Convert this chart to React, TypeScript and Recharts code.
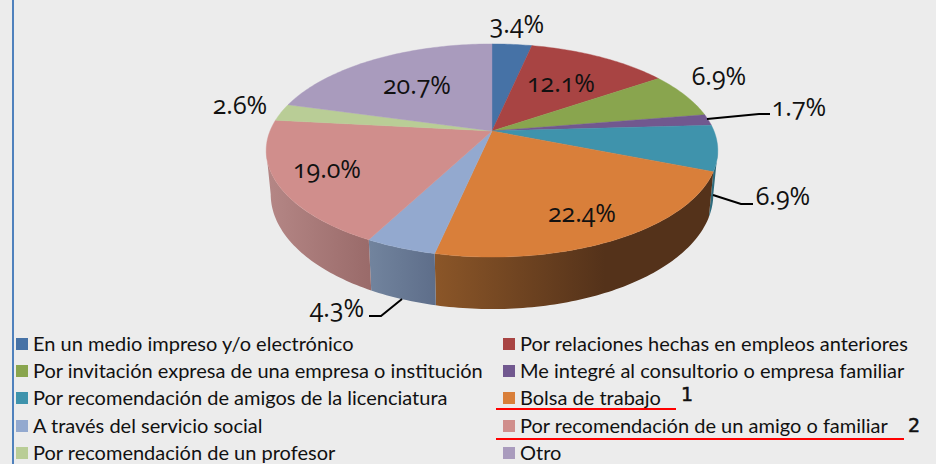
import { Legend, Pie, PieChart } from "recharts";

const categories = [
    "En un medio impreso y/o electrónico",
    "Por relaciones hechas en empleos anteriores",
    "Por invitación expresa de una empresa o institución",
    "Me integré al consultorio o empresa familiar",
    "Por recomendación de amigos de la licenciatura",
    "Bolsa de trabajo",
    "A través del servicio social",
    "Por recomendación de un amigo o familiar",
    "Por recomendación de un profesor",
    "Otro",
];
const percents = [3.4, 12.1, 6.9, 1.7, 6.9, 22.4, 4.3, 19.0, 2.6, 20.7];
const colors = ["#4672A6", "#A84443", "#89A54E", "#71588F", "#3F93AC", "#D97F3A", "#93A9CF", "#D08E8C", "#B9CD96", "#A99BBD"];
// left and right colour of the side wall
const wallColors = [
    ["#33527A", "#33527A"], ["#7A3130", "#7A3130"], ["#637839", "#637839"], ["#523F68", "#523F68"],
    ["#2E6B7D", "#2A6172"], ["#8B5628", "#54321A"], ["#72849E", "#5E6E8A"], ["#B58786", "#9A6B6A"],
    ["#87966D", "#87966D"], ["#7B7189", "#7B7189"],
];
const labelSpots = [
    [517, 23], [561, 82], [719, 75], [799, 106], [783, 195],
    [582, 212], [337, 307], [327, 168], [240, 104], [417, 84],
];
const leaders: Record<number, string> = {
    3: "M707 119 L759 114 L770 114",
    4: "M713 195 L741 204 L753 204",
    6: "M402 299 L381 316 L369 316",
};

const pieData = categories.map((name, i) => ({ name, value: percents[i], fill: colors[i] }));

const FONT = "Lato, 'Open Sans', sans-serif";
const LABEL_FONT = "'Open Sans', Lato, sans-serif";

// perspective of the tilted disc
const APEX_X = 492;
const APEX_Y = 131;
const SPREAD_X = 222;
const SPREAD_Y = 103;
const TILT = 0.183;
const WALL_FROM = 100.5;
const WALL_TO = 259.5;

function topPoint(deg: number) {
    const t = (deg * Math.PI) / 180;
    const d = 1 + TILT * Math.cos(t);
    return [APEX_X + (SPREAD_X * Math.sin(t)) / d, APEX_Y - (SPREAD_Y * Math.cos(t)) / d];
}

function bottomPoint(deg: number) {
    const [x, y] = topPoint(deg);
    return [APEX_X + 0.98 * (x - APEX_X), 1.077 * y + 32.2];
}

function arc(from: number, to: number, fn: (d: number) => number[]) {
    const pts: string[] = [];
    const n = Math.max(2, Math.ceil(Math.abs(to - from)));
    for (let i = 0; i <= n; i++) {
        const p = fn(from + ((to - from) * i) / n);
        pts.push(p[0].toFixed(2) + " " + p[1].toFixed(2));
    }
    return pts;
}

function DiscSector(props: any) {
    const from = 90 - props.startAngle;
    const to = 90 - props.endAngle;
    const i = categories.indexOf(props.name);
    const top = arc(from, to, topPoint);
    const a = Math.max(from, WALL_FROM);
    const b = Math.min(to, WALL_TO);
    const hasWall = b > a;
    let wallPath = "";
    let x1 = 0;
    let x2 = 0;
    if (hasWall) {
        const upper = arc(a, b, topPoint);
        const lower = arc(a, b, bottomPoint).reverse();
        wallPath = "M" + upper.join(" L") + " L" + lower.join(" L") + " Z";
        x1 = Math.min(topPoint(a)[0], topPoint(b)[0]);
        x2 = Math.max(topPoint(a)[0], topPoint(b)[0]);
        if (i === 5) x2 = x1 + 170;
    }
    return (
        <g>
            {hasWall && (
                <>
                    <defs>
                        <linearGradient id={"wall" + i} gradientUnits="userSpaceOnUse" x1={x1} x2={x2} y1={0} y2={0}>
                            <stop offset="0" stopColor={wallColors[i][0]} />
                            <stop offset="1" stopColor={wallColors[i][1]} />
                        </linearGradient>
                    </defs>
                    <path d={wallPath} fill={"url(#wall" + i + ")"} />
                </>
            )}
            <path d={"M" + APEX_X + " " + APEX_Y + " L" + top.join(" L") + " Z"} fill={props.fill} stroke={props.fill} strokeWidth={0.4} />
        </g>
    );
}

function PercentLabel(props: any) {
    const i = props.index;
    const spot = labelSpots[i];
    return (
        <g>
            {leaders[i] && <path d={leaders[i]} fill="none" stroke="#000" strokeWidth={2} />}
            <text x={spot[0]} y={spot[1]} textAnchor="middle" dominantBaseline="central" fontFamily={LABEL_FONT} fontSize={25} fill="#111" style={{ fontFeatureSettings: "'onum'" }}>
                {percents[i].toFixed(1) + "%"}
            </text>
        </g>
    );
}

function LegendRows(props: any) {
    const items = props.payload || [];
    return (
        <div style={{ position: "relative", width: 936, height: 464, fontFamily: FONT, fontSize: 20, color: "#111" }}>
            {items.map((item: any, i: number) => {
                const left = i % 2 === 0 ? 16 : 503;
                const top = 344 + Math.floor(i / 2) * 27.2;
                return (
                    <div key={item.value} style={{ position: "absolute", left, top: top - 14, height: 28, lineHeight: "28px", whiteSpace: "nowrap" }}>
                        <span style={{ position: "absolute", left: 0, top: 8, width: 12, height: 12, background: item.color }} />
                        <span style={{ position: "absolute", left: 17, top: -1 }}>{item.value}</span>
                    </div>
                );
            })}
        </div>
    );
}

const noteStyle = { position: "absolute", fontFamily: "'DejaVu Sans'", fontSize: 19, lineHeight: "20px", color: "#111", WebkitTextStroke: "0.5px #111" } as const;

export default function App() {
    return (
        <div style={{ position: "fixed", left: 0, top: 0, width: 936, height: 464, background: "#ECECEC", overflow: "hidden" }}>
            <div style={{ position: "absolute", left: 12, top: 0, width: 2, height: 464, background: "#4F81BD" }} />
            <PieChart width={936} height={464} margin={{ top: 0, right: 0, bottom: 0, left: 0 }}>
                <Pie
                    data={pieData}
                    dataKey="value"
                    nameKey="name"
                    cx={APEX_X}
                    cy={APEX_Y}
                    outerRadius={100}
                    startAngle={90}
                    endAngle={-270}
                    stroke="none"
                    shape={DiscSector}
                    label={PercentLabel}
                    labelLine={false}
                    isAnimationActive={false}
                />
                <Legend content={LegendRows} itemSorter={null} wrapperStyle={{ left: 0, top: 0, width: 936, height: 464 }} />
            </PieChart>
            <div style={{ position: "absolute", left: 496, top: 408, width: 180, height: 2, background: "#FF0000" }} />
            <div style={{ position: "absolute", left: 496, top: 438, width: 408, height: 2, background: "#FF0000" }} />
            <div style={{ ...noteStyle, left: 681, top: 384 }}>1</div>
            <div style={{ ...noteStyle, left: 908, top: 415 }}>2</div>
        </div>
    );
}
